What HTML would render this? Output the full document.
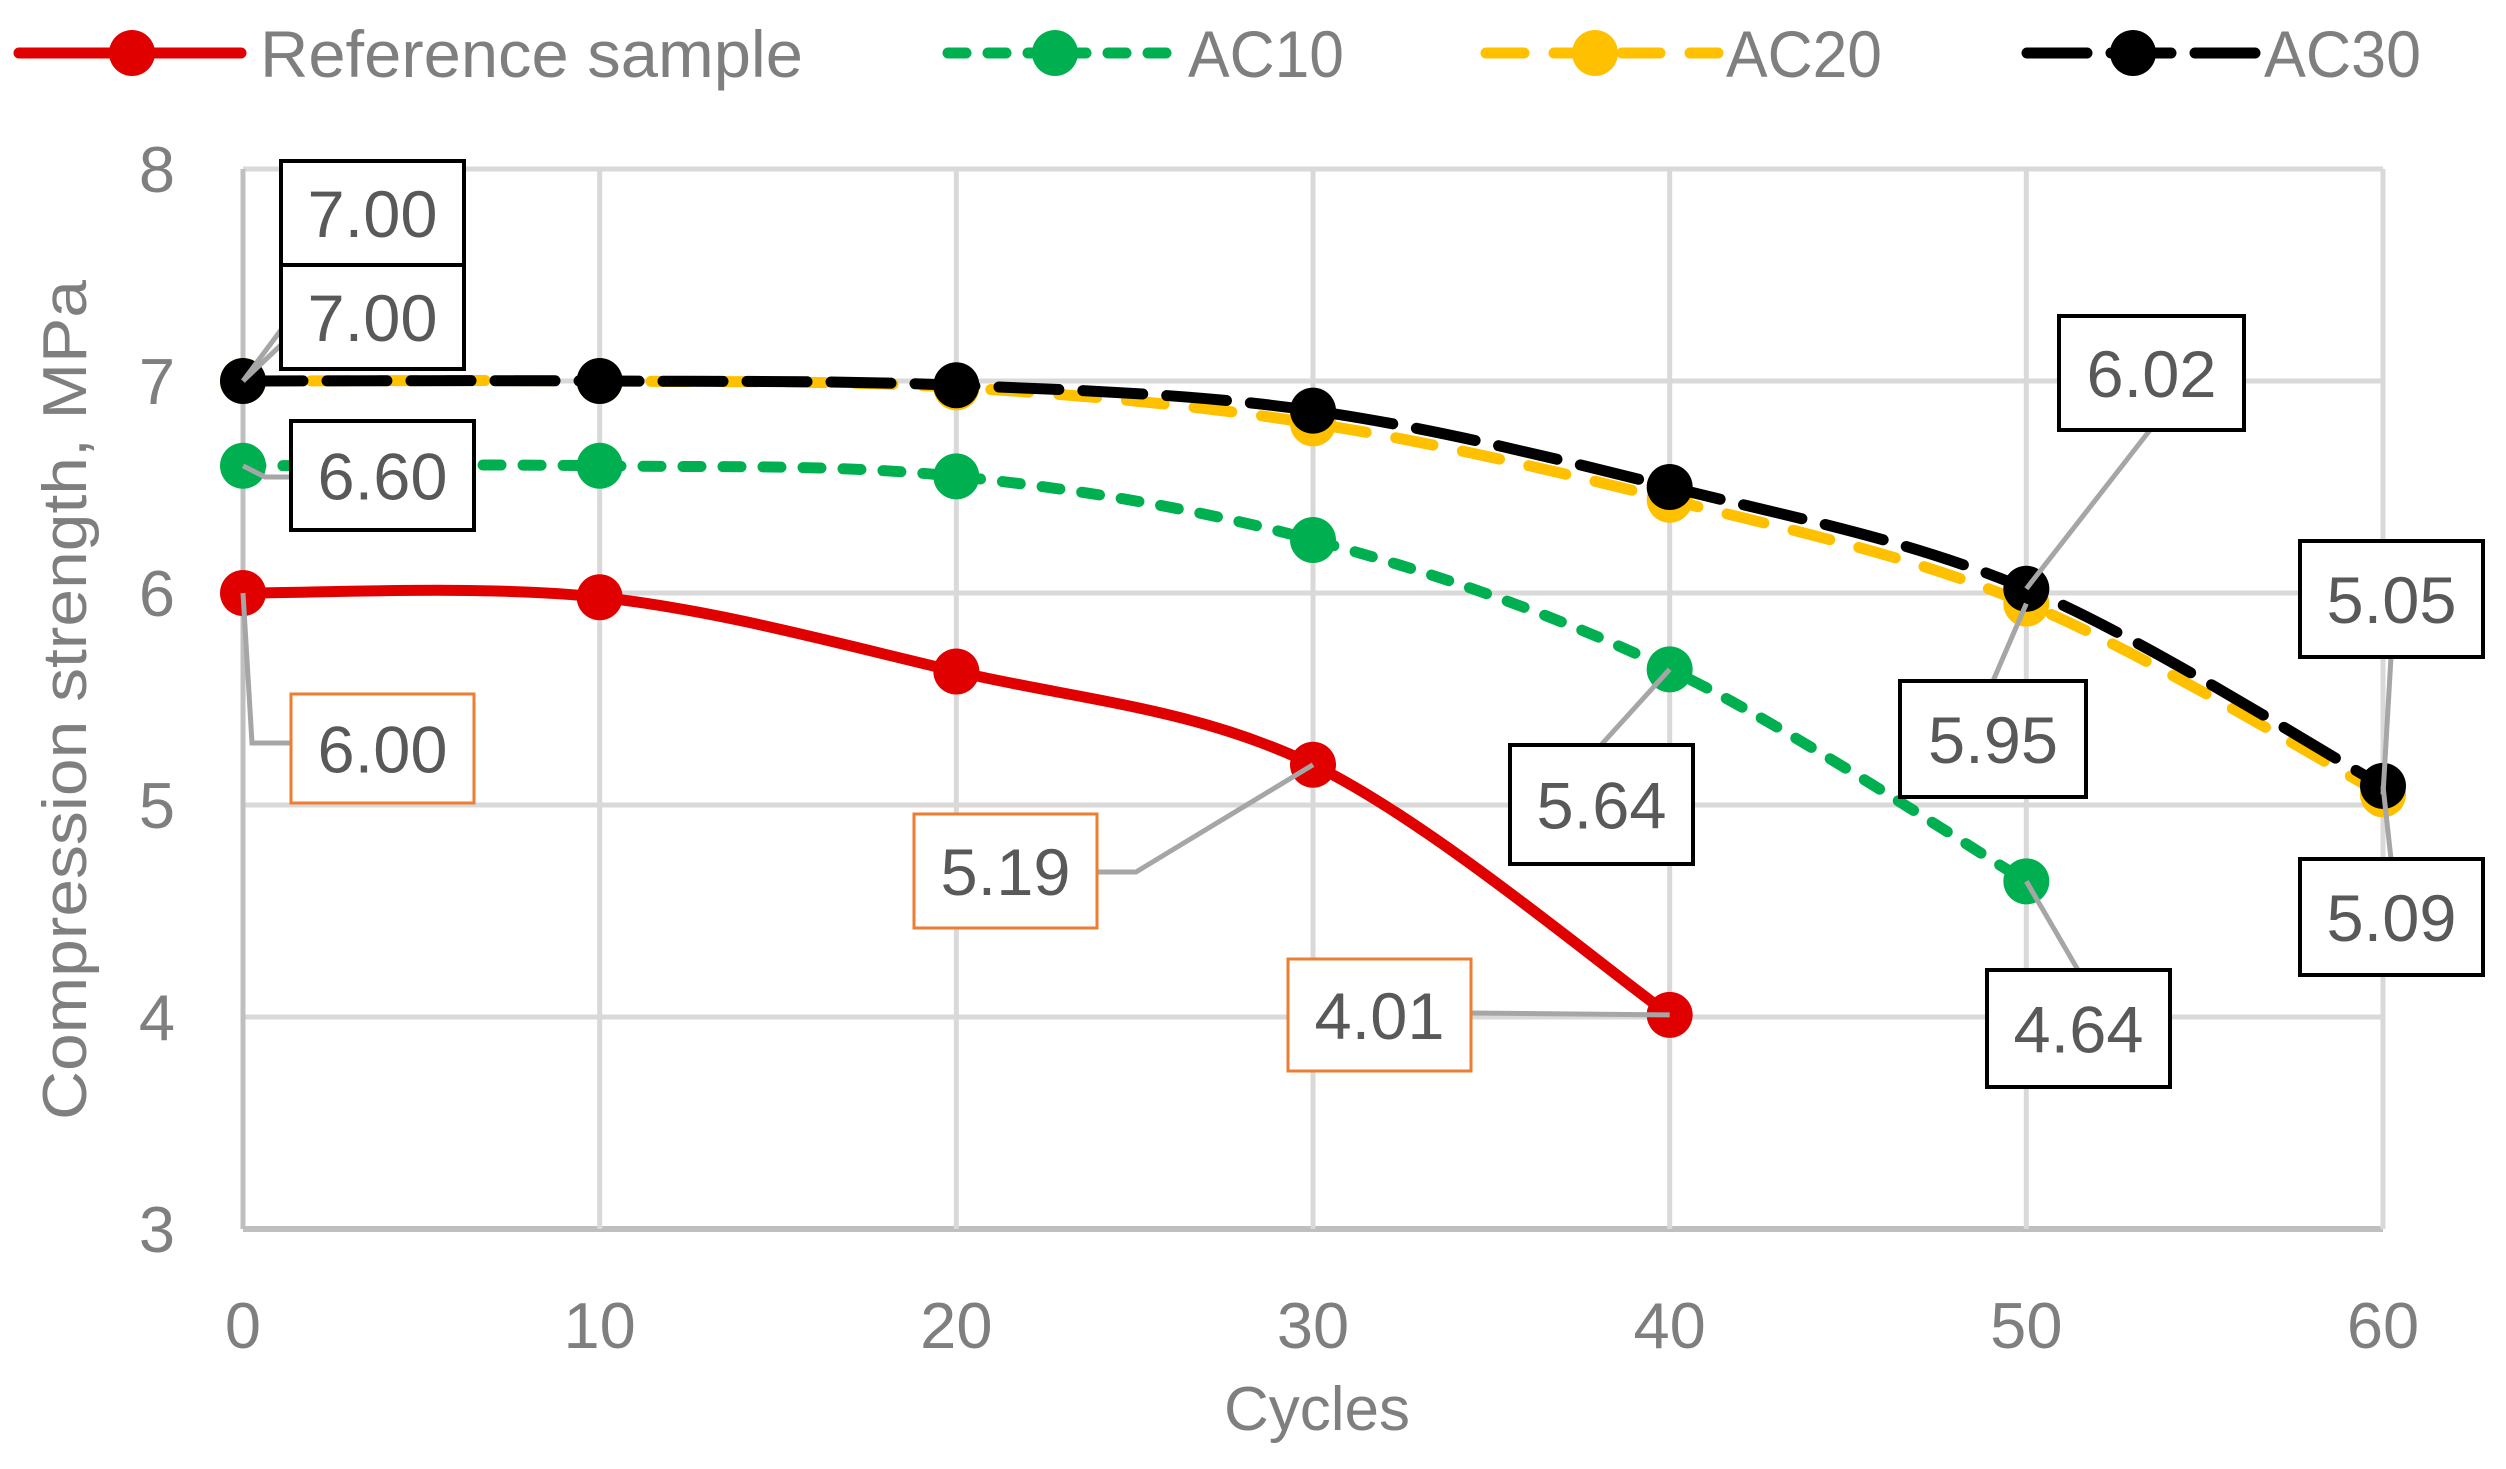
<!DOCTYPE html>
<html><head><meta charset="utf-8"><style>
html,body{margin:0;padding:0;background:#fff;}
svg{display:block;font-family:"Liberation Sans",sans-serif;}
</style></head><body>
<svg id="chart" width="2506" height="1469" viewBox="0 0 2506 1469" xmlns="http://www.w3.org/2000/svg"></svg>
<script>
const cycles=[0,10,20,30,40,50,60];
const refValues=[6.00,5.98,5.63,5.19,4.01];
const ac10Values=[6.60,6.60,6.55,6.25,5.64,4.64];
const ac20Values=[7.00,7.00,6.97,6.80,6.44,5.95,5.05];
const ac30Values=[7.00,7.00,6.98,6.86,6.50,6.02,5.09];
const yTicks=[3,4,5,6,7,8];
const xTicks=[0,10,20,30,40,50,60];

const NS="http://www.w3.org/2000/svg";
const svg=document.getElementById('chart');
const X0=243,X1=2383,Y3=1229,Y8=169;
function xs(v){return X0+(v-0)/(60-0)*(X1-X0);}
function ys(v){return Y3-(v-3)/(8-3)*(Y3-Y8);}
function mk(tag,attrs,parent){const e=document.createElementNS(NS,tag);for(const k in attrs)e.setAttribute(k,attrs[k]);(parent||svg).appendChild(e);return e;}

const grid=mk('g',{});


yTicks.forEach(t=>{const l=mk('line',{x1:X0,x2:X1,y1:ys(t),y2:ys(t),stroke:t===3?'#bfbfbf':'#d9d9d9','stroke-width':t===3?6:5},grid);

});
xTicks.forEach(t=>{const l=mk('line',{x1:xs(t),x2:xs(t),y1:Y8,y2:Y3,stroke:t===0?'#bfbfbf':'#d9d9d9','stroke-width':5},grid);

});

yTicks.forEach(t=>{const e=mk('text',{x:175,y:ys(t)+23,'text-anchor':'end','font-size':65,fill:'#7f7f7f'});e.textContent=t;

});
xTicks.forEach(t=>{const e=mk('text',{x:xs(t),y:1348,'text-anchor':'middle','font-size':65,fill:'#7f7f7f'});e.textContent=t;

});
const yt=mk('text',{x:0,y:0,'text-anchor':'middle','font-size':62,fill:'#7f7f7f',transform:'translate(86,700) rotate(-90)',textLength:840,lengthAdjust:'spacingAndGlyphs'});yt.textContent='Compression strength, MPa';


const xt=mk('text',{x:1317,y:1430,'text-anchor':'middle','font-size':62,fill:'#7f7f7f'});xt.textContent='Cycles';



function smooth(pts){let d=`M${pts[0][0]},${pts[0][1]}`;for(let i=0;i<pts.length-1;i++){const p0=pts[i-1]||pts[i],p1=pts[i],p2=pts[i+1],p3=pts[i+2]||p2;const t=1/6;
d+=` C${p1[0]+(p2[0]-p0[0])*t},${p1[1]+(p2[1]-p0[1])*t} ${p2[0]-(p3[0]-p1[0])*t},${p2[1]-(p3[1]-p1[1])*t} ${p2[0]},${p2[1]}`;}return d;}

const series=[
 {name:'reference-sample',vals:refValues,color:'#e00000',dash:'none'},
 {name:'ac10',vals:ac10Values,color:'#00b050',dash:'18 22'},
 {name:'ac20',vals:ac20Values,color:'#ffc000',dash:'38 30'},
 {name:'ac30',vals:ac30Values,color:'#000000',dash:'60 24'}];
series.forEach(s=>{const g=mk('g',{});


const pts=s.vals.map((v,i)=>[xs(cycles[i]),ys(v)]);
const p=mk('path',{d:smooth(pts),fill:'none',stroke:s.color,'stroke-width':11,'stroke-dasharray':s.dash,'stroke-linecap':'round'},g);


pts.forEach(q=>{const c=mk('circle',{cx:q[0],cy:q[1],r:23,fill:s.color},g);

});});

const labels=[
 ['7.00',281,161,183,104,'#000',[[xs(0),ys(ac20Values[0])],[281,330]]],
 ['7.00',281,265,183,104,'#000',[[xs(0),ys(ac30Values[0])],[281,345]]],
 ['6.60',291,421,183,109,'#000',[[xs(0),ys(ac10Values[0])],[265,477],[291,477]]],
 [refValues[0].toFixed(2),291,694,183,109,'#ED7D31',[[xs(0),ys(refValues[0])],[252,743],[291,743]]],
 [refValues[3].toFixed(2),914,814,183,114,'#ED7D31',[[xs(30),ys(refValues[3])],[1136,872],[1097,872]]],
 [refValues[4].toFixed(2),1288,959,183,112,'#ED7D31',[[xs(40),ys(refValues[4])],[1471,1013]]],
 [ac10Values[4].toFixed(2),1510,745,183,119,'#000',[[xs(40),ys(ac10Values[4])],[1601,745]]],
 [ac10Values[5].toFixed(2),1987,970,183,117,'#000',[[xs(50),ys(ac10Values[5])],[2078,970]]],
 [ac20Values[5].toFixed(2),1900,681,186,116,'#000',[[xs(50),ys(ac20Values[5])],[1993,681]]],
 [ac30Values[5].toFixed(2),2059,316,185,114,'#000',[[xs(50),ys(ac30Values[5])],[2150,430]]],
 [ac20Values[6].toFixed(2),2300,541,183,116,'#000',[[xs(60),ys(ac20Values[6])],[2391,657]]],
 [ac30Values[6].toFixed(2),2300,859,183,116,'#000',[[xs(60),ys(ac30Values[6])],[2391,859]]]];
labels.forEach(L=>{const g=mk('g',{});


const ln=mk('polyline',{points:L[6].map(p=>p.join(',')).join(' '),fill:'none',stroke:'#a6a6a6','stroke-width':5},g);


const r=mk('rect',{x:L[1],y:L[2],width:L[3],height:L[4],fill:'#fff',stroke:L[5],'stroke-width':L[5]==='#000'?4:3},g);


const t=mk('text',{x:L[1]+L[3]/2,y:L[2]+L[4]/2+24,'text-anchor':'middle','font-size':66,fill:'#595959',textLength:130,lengthAdjust:'spacingAndGlyphs'},g);t.textContent=L[0];

});

const legend=[['Reference sample',19,241,132,260,'#e00000','none',543],['AC10',948,1180,1055,1188,'#00b050','18 22',156],['AC20',1486,1718,1595,1726,'#ffc000','38 30',156],['AC30',2027,2256,2133,2264,'#000','60 24',157]];
legend.forEach(e=>{const g=mk('g',{});


mk('line',{x1:e[1],x2:e[2],y1:53,y2:53,stroke:e[5],'stroke-width':11,'stroke-dasharray':e[6],'stroke-linecap':'round'},g);
mk('circle',{cx:e[3],cy:53,r:23,fill:e[5]},g);
const t=mk('text',{x:e[4],y:77,'font-size':66,fill:'#7f7f7f',textLength:e[7],lengthAdjust:'spacingAndGlyphs'},g);t.textContent=e[0];

});
</script>
</body></html>
